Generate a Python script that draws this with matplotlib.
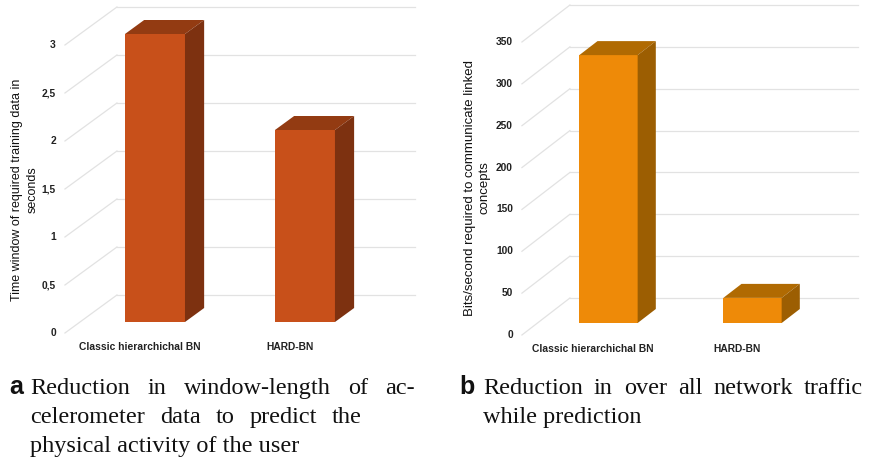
import matplotlib
matplotlib.use("Agg")
import matplotlib.pyplot as plt
from matplotlib.patches import Polygon
from matplotlib.lines import Line2D
from matplotlib.transforms import IdentityTransform

# panel a: training window length
cats = ["Classic hierarchichal BN", "HARD-BN"]
window_sec = [3.0, 2.0]
window_ticks = [0, 0.5, 1, 1.5, 2, 2.5, 3]
window_ticklabels = ["0", "0,5", "1", "1,5", "2", "2,5", "3"]

# panel b: network traffic
traffic_bps = [320, 30]
traffic_ticks = [0, 50, 100, 150, 200, 250, 300, 350]
traffic_ticklabels = [str(t) for t in traffic_ticks]

caption_a = ["Reduction in window-length of ac-",
             "celerometer data to predict the",
             "physical activity of the user"]
caption_b = ["Reduction in over all network traffic",
             "while prediction"]

W, H = 876, 461
fig = plt.figure(figsize=(W / 100, H / 100), dpi=100)
fig.patch.set_facecolor("white")
ident = IdentityTransform()
GRID = "#e2e2e2"
TICKFONT = dict(family="Liberation Sans", fontsize=7.4, fontweight="bold", color="#222222")


def px_axes(left, right, floor, top):
    # axes box given in image pixels (y measured from the top)
    return fig.add_axes([left / W, (H - floor) / H, (right - left) / W, (floor - top) / H])


def pseudo3d(ax, values, ticks, ticklabels, depth, bar_frac, thick_frac,
             front, top, side, width):
    ax.set_axis_off()
    dx, dy = depth
    # offsets of front plane and back wall relative to the bar plane
    fx, fy = -dx * bar_frac, -dy * bar_frac
    bx, by = dx * (1 - bar_frac), dy * (1 - bar_frac)
    tx, ty = dx * thick_frac, dy * thick_frac
    x0, x1 = ax.get_xlim()

    for t, lab in zip(ticks, ticklabels):
        pl = ax.transData.transform((x0, t))
        pr = ax.transData.transform((x1, t))
        ax.add_line(Line2D([pl[0] + fx, pl[0] + bx], [pl[1] + fy, pl[1] + by],
                           transform=ident, color=GRID, lw=0.9, zorder=1, clip_on=False))
        ax.add_line(Line2D([pl[0] + bx, pr[0] + bx], [pl[1] + by, pr[1] + by],
                           transform=ident, color=GRID, lw=0.9, zorder=1, clip_on=False))
        fig.text((pl[0] + fx - 9) / W, (pl[1] + fy) / H, lab, ha="right",
                 va="center", **TICKFONT)

    xs = range(len(values))
    ax.bar(xs, values, width=width, color=front, zorder=3, clip_on=False)
    for x, v in zip(xs, values):
        l = ax.transData.transform((x - width / 2, v))
        r = ax.transData.transform((x + width / 2, v))
        b = ax.transData.transform((x + width / 2, 0))
        ax.add_patch(Polygon([l, r, (r[0] + tx, r[1] + ty), (l[0] + tx, l[1] + ty)],
                             closed=True, transform=ident, color=top, zorder=4, lw=0,
                             clip_on=False))
        ax.add_patch(Polygon([b, r, (r[0] + tx, r[1] + ty), (b[0] + tx, b[1] + ty)],
                             closed=True, transform=ident, color=side, zorder=4, lw=0,
                             clip_on=False))
        c = ax.transData.transform((x, 0))
        fig.text((c[0] + fx) / W, (c[1] + fy - 14) / H, cats[x], ha="center",
                 va="center", **TICKFONT)


# left panel
ax1 = px_axes(80, 378, 322, 34)
ax1.set_xlim(-0.5, 1.487)
ax1.set_ylim(0, 3)
pseudo3d(ax1, window_sec, window_ticks, window_ticklabels, depth=(52, 38),
         bar_frac=11 / 38, thick_frac=14 / 38, front="#c8501a", top="#933b12",
         side="#7d3110", width=0.4)

# right panel
ax2 = px_axes(537.5, 825.5, 323, 30)
ax2.set_xlim(-0.493, 1.507)
ax2.set_ylim(0, 350)
pseudo3d(ax2, traffic_bps, traffic_ticks, traffic_ticklabels, depth=(48, 37),
         bar_frac=12 / 37, thick_frac=14 / 37, front="#ee8a08", top="#b06a02",
         side="#9c5e02", width=0.405)

fig.text(25 / W, 1 - 190 / H, "Time window of required training data in\nseconds",
         rotation=90, ha="center", va="center", multialignment="center",
         family="Liberation Sans", fontsize=9, linespacing=1.45, color="#111111")
fig.text(477 / W, 1 - 188 / H, "Bits/second required to communicate linked\nconcepts",
         rotation=90, ha="center", va="center", multialignment="center",
         family="Liberation Sans", fontsize=9.5, linespacing=1.3, color="#111111")

# captions, justified lines laid out word by word
CAP = dict(family="Liberation Serif", fontsize=17.5, color="#111111", va="baseline")
renderer = fig.canvas.get_renderer()


def caption(left, baseline, lines, rights):
    for i, (line, right) in enumerate(zip(lines, rights)):
        y = 1 - (baseline + 29 * i) / H
        if right is None:
            fig.text(left / W, y, line, **CAP)
            continue
        words = [fig.text(0, y, w, **CAP) for w in line.split()]
        widths = [w.get_window_extent(renderer).width for w in words]
        gap = (right - left - sum(widths)) / (len(words) - 1)
        x = left
        for w, wd in zip(words, widths):
            w.set_x(x / W)
            x += wd + gap


fig.text(9 / W, 1 - 394 / H, "a", family="Liberation Sans", fontsize=18,
         fontweight="bold", va="baseline", color="#111111")
caption(30, 394, caption_a, [415, 362, None])
fig.text(459 / W, 1 - 394 / H, "b", family="Liberation Sans", fontsize=18,
         fontweight="bold", va="baseline", color="#111111")
caption(483, 394, caption_b, [863, None])

fig.savefig("out.png", dpi=100)
